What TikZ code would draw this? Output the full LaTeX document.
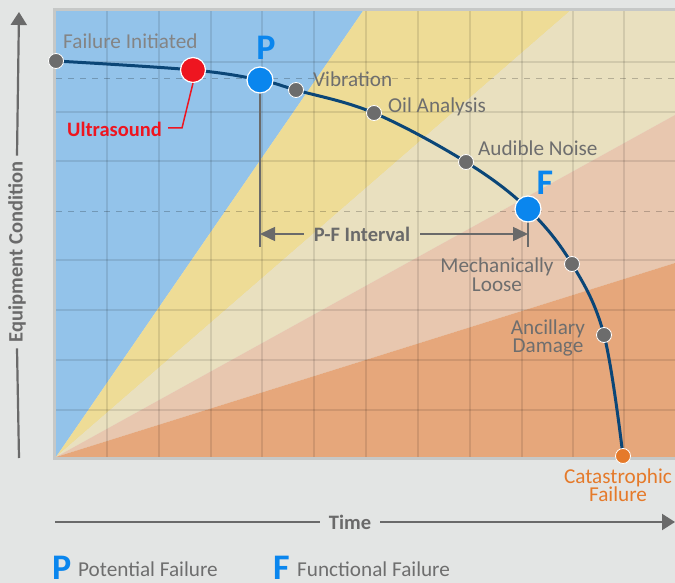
\documentclass[tikz,border=0pt]{standalone}
\usepackage{fontspec}
\setmainfont{Carlito}
\usetikzlibrary{arrows.meta}
\definecolor{bgc}{HTML}{E3E5E4}
\definecolor{zblue}{HTML}{93C3EA}
\definecolor{zyellow}{HTML}{EEDC96}
\definecolor{zcream}{HTML}{E9E0BF}
\definecolor{zpink}{HTML}{E8C7AF}
\definecolor{zorange}{HTML}{E6A77B}
\definecolor{framec}{HTML}{C6C8C7}
\definecolor{curvec}{HTML}{0B4677}
\definecolor{labgray}{HTML}{6E6E6E}
\definecolor{axgray}{HTML}{6A6A6A}
\definecolor{pfblue}{HTML}{0A86EE}
\definecolor{usred}{HTML}{EE1520}
\definecolor{catorange}{HTML}{E57A2A}
\definecolor{dotgray}{HTML}{6C6C6C}
\tikzset{
  gridline/.style={draw=black, opacity=0.10, line width=1.2pt},
  dashline/.style={draw=black, opacity=0.22, line width=1pt, dash pattern=on 6pt off 6pt},
  lbl/.style={inner sep=0pt, text=labgray, font=\fontsize{21.2}{19}\selectfont},
  smalldot/.style={circle, fill=dotgray, draw=white, line width=0.8pt, minimum size=15pt, inner sep=0pt},
  bigdot/.style={circle, fill=pfblue, draw=white, line width=1.2pt, minimum size=26pt, inner sep=0pt},
  reddot/.style={circle, fill=usred, draw=white, line width=1.2pt, minimum size=25pt, inner sep=0pt},
  catdot/.style={circle, fill=catorange, draw=white, line width=0.8pt, minimum size=15pt, inner sep=0pt},
  axisline/.style={draw=axgray, line width=2.2pt},
  axhead/.style={-{Triangle[length=13pt,width=16pt]}},
  pfline/.style={draw=axgray, line width=1.5pt},
  bigletter/.style={inner sep=0pt, text=pfblue, font=\fontsize{36}{36}\selectfont\bfseries},
}
\begin{document}
\begin{tikzpicture}[x=1pt,y=-1pt]
\useasboundingbox (0,0) rectangle (675,583);
\fill[bgc] (0,0) rectangle (675,583);
% colour zones
\coordinate (O) at (56,457);
\fill[zblue] (O) -- (56,11) -- (363,11) -- cycle;
\fill[zyellow] (O) -- (363,11) -- (570,11) -- cycle;
\fill[zcream] (O) -- (570,11) -- (675,11) -- (675,115) -- cycle;
\fill[zpink] (O) -- (675,115) -- (675,263) -- cycle;
\fill[zorange] (O) -- (675,263) -- (675,457) -- cycle;
% grid
\foreach \x in {107,159,211,262,314,366,418,470,522,573,624}
  \draw[gridline] (\x,11) -- (\x,457);
\foreach \y in {62,112,161,260,310,360,410}
  \draw[gridline] (56,\y) -- (675,\y);
\draw[dashline] (56,79) -- (675,79);
\draw[dashline] (56,211) -- (675,211);
% frame
\draw[framec, line width=3pt] (678,9.5) -- (54.5,9.5) -- (54.5,458.5) -- (678,458.5);
% P-F verticals
\coordinate (Pb) at (260,247);
\coordinate (Fb) at (528,247);
\coordinate (Pa) at (260,234);
\coordinate (Fa) at (528,234);
\coordinate (Pt) at (260,80);
\coordinate (Ft) at (528,209);
\draw[pfline] (Pt) -- (Pb);
\draw[pfline] (Ft) -- (Fb);
\node[inner ysep=0pt, inner xsep=10pt, text=axgray, font=\fontsize{20.5}{20}\selectfont\bfseries] (pf) at (362,234) {P-F Interval};
\draw[pfline, -{Triangle[length=15pt,width=14pt]}] (pf.west) -- (Pa);
\draw[pfline, -{Triangle[length=15pt,width=14pt]}] (pf.east) -- (Fa);
% curve
\draw[curvec, line width=3pt] plot[smooth, tension=0.6] coordinates
  {(56,61) (193,70) (260,80) (296,90) (374,113) (466,162) (528,209) (572,264) (604,335) (623,456)};
% ultrasound connector
\coordinate (u1) at (182,128);
\coordinate (u2) at (168,128);
\node[reddot] (us) at (193,70) {};
\draw[usred, line width=1.5pt] (us.south) -- (u1) -- (u2);
\node[inner sep=0pt, anchor=west, text=usred, font=\fontsize{20.5}{20}\selectfont\bfseries] (uslab) at (67,129) {Ultrasound};
% dots
\node[smalldot] (start) at (56,61) {};
\node[bigdot] (P) at (260,80) {};
\node[smalldot] (vib) at (296,90) {};
\node[smalldot] (oil) at (374,113) {};
\node[smalldot] (aud) at (466,162) {};
\node[bigdot] (F) at (528,209) {};
\node[smalldot] (mech) at (572,264) {};
\node[smalldot] (anc) at (604,335) {};
\node[catdot] (cat) at (623,456) {};
% labels
\node[lbl, anchor=west, text=labgray!85] (fi) at (63,41) {Failure Initiated};
\node[bigletter] (Plab) at (266,48) {P};
\node[bigletter] (Flab) at (545,183) {F};
\node[lbl, anchor=west] (viblab) at (313,79) {Vibration};
\node[lbl, anchor=west] (oillab) at (388,107) {Oil Analysis};
\node[lbl, anchor=west] (audlab) at (478,148) {Audible Noise};
\node[lbl, anchor=base] (mechlab) at (497,272) {Mechanically};
\node[lbl, anchor=base] (mechlab2) at (497,291) {Loose};
\node[lbl, anchor=base] (anclab) at (548,334) {Ancillary};
\node[lbl, anchor=base] (anclab2) at (548,352) {Damage};
\node[lbl, anchor=base, text=catorange] (catlab) at (618,483) {Catastrophic};
\node[lbl, anchor=base, text=catorange] (catlab2) at (618,501) {Failure};
% y axis
\coordinate (ybot) at (19,458);
\coordinate (ytop) at (19,12);
\node[rotate=90, inner ysep=0pt, inner xsep=6pt, text=axgray, font=\fontsize{20.5}{20}\selectfont\bfseries] (ylab) at (17,252) {Equipment Condition};
\draw[axisline] (ybot) -- (ylab.west);
\draw[axisline, axhead] (ylab.east) -- (ytop);
% x axis
\coordinate (xl) at (55,522);
\coordinate (xr) at (675,522);
\node[inner ysep=0pt, inner xsep=9pt, text=axgray, font=\fontsize{20.5}{20}\selectfont\bfseries] (tlab) at (350,522) {Time};
\draw[axisline] (xl) -- (tlab.west);
\draw[axisline, axhead] (tlab.east) -- (xr);
% legend
\node[bigletter, anchor=base west] (legP) at (52,579) {P};
\node[lbl, anchor=base west] (legPt) at (78,576) {Potential Failure};
\node[bigletter, anchor=base west] (legF) at (273,579) {F};
\node[lbl, anchor=base west] (legFt) at (297,576) {Functional Failure};
\end{tikzpicture}
\end{document}
